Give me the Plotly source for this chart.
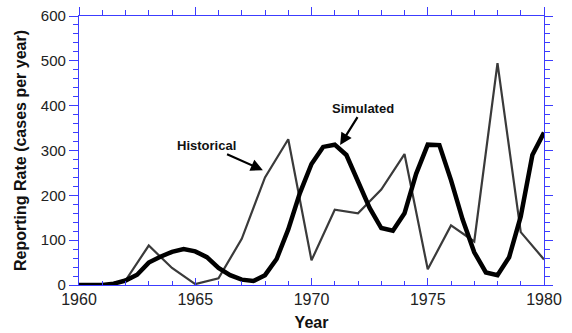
import plotly.graph_objects as go

hist_years = list(range(1960, 1981))
hist_cases = [0, 0, 10, 88, 38, 2, 15, 103, 240, 325, 55, 168, 160, 213, 292,
              35, 133, 97, 495, 118, 57]

sim_years = [1960 + 0.5 * i for i in range(41)]
sim_cases = [0, 0, 0, 3, 10, 23, 50, 63, 74, 80, 75, 62, 38, 22, 12, 9, 22, 58,
             124, 205, 270, 308, 313, 290, 230, 172, 127, 121, 160, 248, 313,
             312, 234, 146, 73, 28, 22, 62, 153, 290, 340]

x_ticks = [1960, 1965, 1970, 1975, 1980]
y_ticks = [0, 100, 200, 300, 400, 500, 600]

AX = "#3c3cff"
FONT = "Liberation Sans, Arial, Helvetica, sans-serif"

fig = go.Figure()
fig.add_trace(go.Scatter(x=hist_years, y=hist_cases, mode="lines", xaxis="x", yaxis="y",
                         line=dict(color="#3a3a3a", width=2.2), showlegend=False))
fig.add_trace(go.Scatter(x=sim_years, y=sim_cases, mode="lines", xaxis="x2", yaxis="y2",
                         line=dict(color="#000000", width=4.5), showlegend=False))

common_x = dict(range=[1960, 1980], showgrid=False, zeroline=False, showline=True,
                linecolor=AX, linewidth=1.2, tickcolor=AX, tickwidth=1.2,
                tickmode="array", tickvals=x_ticks)
common_y = dict(range=[0, 600], showgrid=False, zeroline=False, showline=True,
                linecolor=AX, linewidth=1.2, tickcolor=AX, tickwidth=1.2,
                tickmode="array", tickvals=y_ticks)

fig.update_layout(
    template="none",
    width=572, height=333,
    margin=dict(l=79, r=28, t=16, b=48, autoexpand=False),
    paper_bgcolor="white", plot_bgcolor="white",
    font=dict(family=FONT, color="#222222"),
    xaxis=dict(**common_x, ticks="inside", ticklen=7, automargin=True,
               ticktext=[str(v) for v in x_ticks],
               tickfont=dict(size=16, family=FONT, color="#222222"),
               minor=dict(dtick=1, ticks="inside", ticklen=4, tickcolor=AX, tickwidth=1.2),
               title=dict(text="<b>Year</b>", font=dict(size=16, family=FONT, color="#111111"),
                          standoff=9)),
    xaxis2=dict(**common_x, overlaying="x", side="top", anchor="y2", automargin=False,
                ticks="outside", ticklen=8, showticklabels=False,
                minor=dict(dtick=1, ticks="outside", ticklen=5, tickcolor=AX, tickwidth=1.2)),
    yaxis=dict(**common_y, ticks="outside", ticklen=9, automargin=True,
               tickfont=dict(size=15, family=FONT, color="#222222"),
               minor=dict(dtick=20, ticks="outside", ticklen=5, tickcolor=AX, tickwidth=1.2),
               title=dict(text="<b>Reporting Rate (cases per year)</b>",
                          font=dict(size=16, family=FONT, color="#111111"), standoff=10)),
    yaxis2=dict(**common_y, overlaying="y", side="right", anchor="x2", automargin=False,
                ticks="outside", ticklen=8, showticklabels=False,
                minor=dict(dtick=20, ticks="outside", ticklen=5, tickcolor=AX, tickwidth=1.2)),
)

fig.add_annotation(x=1967.91, y=256, xref="x", yref="y", text="<b>Historical</b>",
                   showarrow=True, ax=-56, ay=-25, arrowhead=2, arrowsize=1.1,
                   arrowwidth=2.2, arrowcolor="#000000",
                   font=dict(size=13, family=FONT, color="#111111"))
fig.add_annotation(x=1971.23, y=312, xref="x", yref="y", text="<b>Simulated</b>",
                   showarrow=True, ax=23, ay=-37, arrowhead=2, arrowsize=1.1,
                   arrowwidth=2.2, arrowcolor="#000000",
                   font=dict(size=13, family=FONT, color="#111111"))

fig.write_html("out.html", config={"displayModeBar": False},
               post_script="document.body.style.margin='0';")
